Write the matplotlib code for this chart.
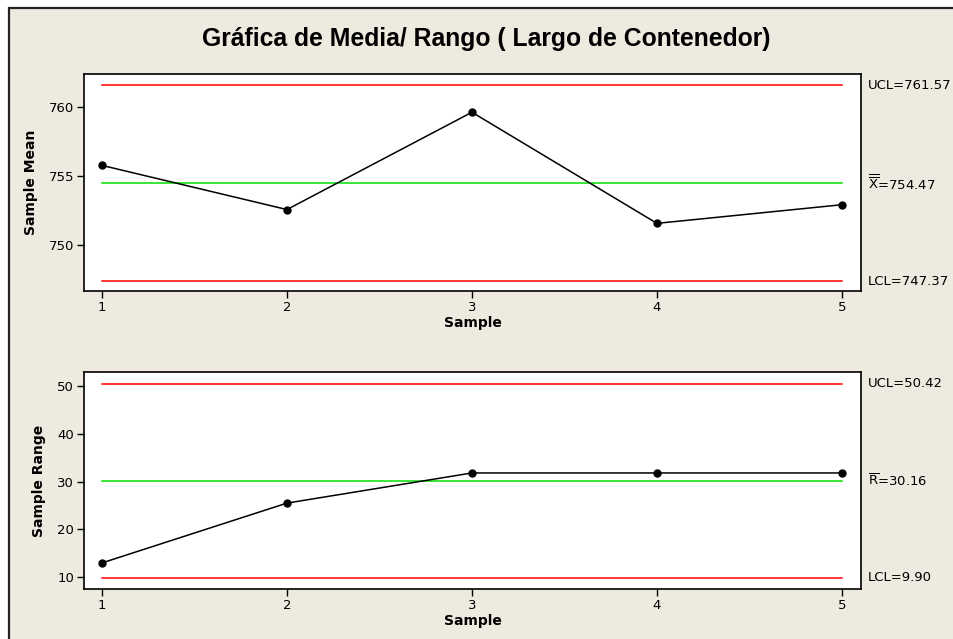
import matplotlib.pyplot as plt
from matplotlib.patches import Rectangle

# Datos
muestras = [1, 2, 3, 4, 5]
medias = [755.75, 752.55, 759.6, 751.55, 752.9]
rangos = [13.0, 25.5, 31.8, 31.8, 31.8]

lim_media = [761.57, 754.47, 747.37]   # UCL, centro, LCL
lim_rango = [50.42, 30.16, 9.90]

etq_media = ['UCL=761.57', r'$\overline{\overline{\mathrm{X}}}$=754.47', 'LCL=747.37']
etq_rango = ['UCL=50.42', r'$\overline{\mathrm{R}}$=30.16', 'LCL=9.90']

fondo = '#eeeae0'
fig = plt.figure(figsize=(9.54, 6.39), dpi=100)
fig.patch.set_facecolor('white')

# Panel beige con borde (cortado a la derecha y abajo)
W, H = 954, 639
fig.patches.append(Rectangle((9 / W, -0.05), 1.0, 1 - 8 / H + 0.05, transform=fig.transFigure,
                             facecolor=fondo, edgecolor='#222222', linewidth=1.6, zorder=-5))

fig.text(486 / W, 1 - 39 / H, 'Gráfica de Media/ Rango ( Largo de Contenedor)',
         ha='center', va='center', fontsize=17.8, fontweight='bold', family='Liberation Sans')

def panel(rect, y, lims, etqs, ylim, yticks, ylabel):
    ax = fig.add_axes(rect)
    ax.set_facecolor('white')
    ax.plot(muestras, y, color='black', marker='o', markersize=5, linewidth=1.1, zorder=3)
    cols = ['red', '#00e000', 'red']
    for v, c, t in zip(lims, cols, etqs):
        ax.plot([muestras[0], muestras[-1]], [v, v], color=c, linewidth=1.1, zorder=2)
        ax.text(1.009, v, t, transform=ax.get_yaxis_transform(), ha='left', va='center',
                fontsize=9.5, family='DejaVu Sans')
    ax.set_xlim(0.903, 5.103)
    ax.set_ylim(*ylim)
    ax.set_xticks(muestras)
    ax.set_yticks(yticks)
    ax.tick_params(direction='out', length=5, labelsize=9.5, width=1, pad=2)
    for s in ax.spines.values():
        s.set_linewidth(1.2)
    ax.set_xlabel('Sample', fontsize=10, fontweight='bold', labelpad=2)
    ax.set_ylabel(ylabel, fontsize=10, fontweight='bold', labelpad=8)
    return ax

panel([84 / W, 1 - 291 / H, (861 - 84) / W, (291 - 74) / H], medias, lim_media, etq_media,
      (746.65, 762.37), [750, 755, 760], 'Sample Mean')
panel([84 / W, 1 - 589 / H, (861 - 84) / W, (589 - 372) / H], rangos, lim_rango, etq_rango,
      (7.55, 52.9), [10, 20, 30, 40, 50], 'Sample Range')

fig.savefig('out.png', dpi=100, facecolor=fig.get_facecolor())
